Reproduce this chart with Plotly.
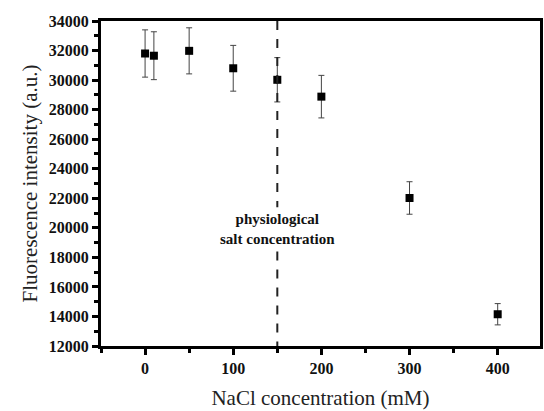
import plotly.graph_objects as go

nacl_mM = [0, 10, 50, 100, 150, 200, 300, 400]
intensity = [31800, 31650, 31980, 30800, 30020, 28880, 22020, 14150]
error = [1600, 1620, 1560, 1550, 1500, 1440, 1100, 720]
y_ticks = list(range(12000, 34001, 2000))
x_ticks = [0, 100, 200, 300, 400]
physio_x = 150

fig = go.Figure()
fig.add_trace(go.Scatter(
    x=nacl_mM, y=intensity, mode="markers",
    marker=dict(symbol="square", size=8, color="black"),
    error_y=dict(type="data", array=error, visible=True, color="#444", thickness=1, width=3),
    showlegend=False,
))

# dashed physiological line (two segments around the label)
fig.add_shape(type="line", x0=physio_x, x1=physio_x, y0=34000, y1=21400,
              line=dict(color="#222", width=2, dash="dash"), layer="above")
fig.add_shape(type="line", x0=physio_x, x1=physio_x, y0=18400, y1=12000,
              line=dict(color="#222", width=2, dash="dash"), layer="above")
fig.add_annotation(x=physio_x, y=19900, text="<b>physiological<br>salt concentration</b>",
                   showarrow=False, font=dict(family="Liberation Serif", size=15, color="#111"))

axis_common = dict(showline=True, linewidth=3, linecolor="black", mirror=True,
                   ticks="outside", tickwidth=3, ticklen=6, tickcolor="black",
                   showgrid=False, zeroline=False,
                   tickfont=dict(family="Liberation Serif", size=16, color="#111"))

fig.update_xaxes(range=[-50, 448], tickvals=x_ticks, ticktext=[f"<b>{v}</b>" for v in x_ticks],
                 minor=dict(ticks="outside", dtick=50, tick0=0, ticklen=4, tickwidth=3, tickcolor="black"),
                 title=dict(text="NaCl concentration (mM)", font=dict(family="Liberation Serif", size=21, color="#222"), standoff=15),
                 **axis_common)
fig.update_yaxes(range=[12000, 34000], tickvals=y_ticks, ticktext=[f"<b>{v}</b>" for v in y_ticks],
                 minor=dict(ticks="outside", dtick=1000, tick0=12000, ticklen=4, tickwidth=3, tickcolor="black"),
                 title=dict(text="Fluorescence intensity (a.u.)", font=dict(family="Liberation Serif", size=21, color="#222"), standoff=6),
                 **axis_common)

fig.update_layout(width=544, height=411, margin=dict(l=101, r=1, t=21, b=65),
                  plot_bgcolor="white", paper_bgcolor="white")
fig.write_html("out.html")
